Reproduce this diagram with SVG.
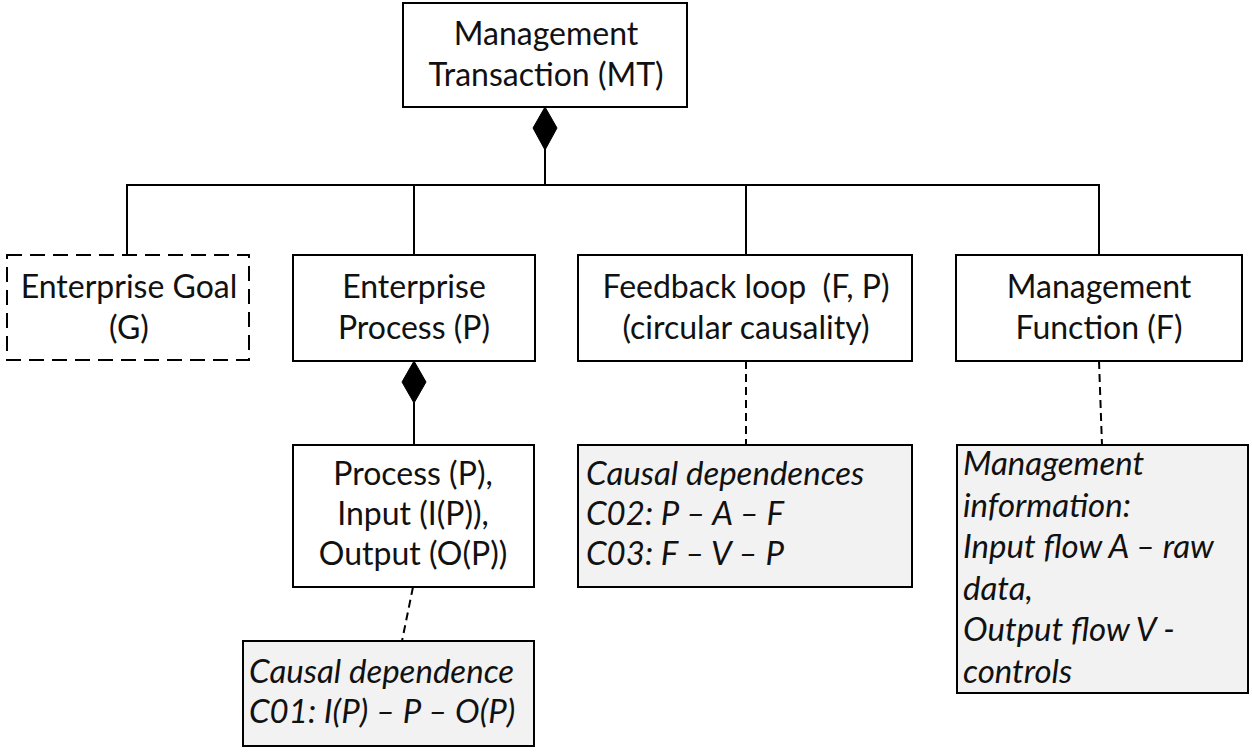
<svg xmlns="http://www.w3.org/2000/svg" width="1252" height="752" viewBox="0 0 1252 752">
<style>
.box{fill:#fff;stroke:#000;stroke-width:2}
.dbox{fill:#fff;stroke:#000;stroke-width:2;stroke-dasharray:15 8}
.note{fill:#f2f2f2;stroke:#000;stroke-width:2}
.t{font-family:Lato,"Open Sans","Liberation Sans",sans-serif;font-size:32px;fill:#111;text-anchor:middle}
.n{font-family:Lato,"Open Sans","Liberation Sans",sans-serif;font-size:33px;font-style:italic;fill:#111}
.ln{stroke:#000;stroke-width:2;fill:none}
.dl{stroke:#000;stroke-width:2;fill:none;stroke-dasharray:8 5}
.dia{fill:#000;stroke:#000;stroke-width:1}
</style>
<rect width="1252" height="752" fill="#fff"/>
<g id="connectors">
<line class="ln" x1="545" y1="148" x2="545" y2="185"/>
<line class="ln" x1="126" y1="185" x2="1100" y2="185"/>
<line class="ln" x1="127" y1="185" x2="127" y2="255"/>
<line class="ln" x1="414" y1="185" x2="414" y2="255"/>
<line class="ln" x1="746" y1="185" x2="746" y2="255"/>
<line class="ln" x1="1099" y1="185" x2="1099" y2="255"/>
<line class="ln" x1="414" y1="402" x2="414" y2="445"/>
<line class="dl" x1="413" y1="587" x2="402" y2="641"/>
<line class="dl" x1="746" y1="361" x2="746" y2="445"/>
<line class="dl" x1="1099" y1="361" x2="1102" y2="445"/>
<path class="dia" d="M545,107 L557,128 L545,150 L533,128 Z"/>
<path class="dia" d="M414,361 L426,382 L414,403 L402,382 Z"/>
</g>
<g id="mt">
<rect class="box" x="403" y="3" width="284" height="104"/>
<text class="t" x="546" y="45">Management</text>
<text class="t" x="546" y="86">Transaction (MT)</text>
</g>
<g id="goal">
<rect class="dbox" x="7" y="255" width="242" height="105"/>
<text class="t" x="129" y="298">Enterprise Goal</text>
<text class="t" x="129" y="339">(G)</text>
</g>
<g id="process">
<rect class="box" x="293" y="255" width="242" height="106"/>
<text class="t" x="414" y="298">Enterprise</text>
<text class="t" x="414" y="339">Process (P)</text>
</g>
<g id="feedback">
<rect class="box" x="578" y="255" width="334" height="106"/>
<text class="t" x="746" y="298">Feedback loop&#160; (F, P)</text>
<text class="t" x="746" y="339">(circular causality)</text>
</g>
<g id="function">
<rect class="box" x="956" y="255" width="286" height="106"/>
<text class="t" x="1099" y="298">Management</text>
<text class="t" x="1099" y="339">Function (F)</text>
</g>
<g id="pio">
<rect class="box" x="293" y="445" width="241" height="142"/>
<text class="t" x="413" y="485">Process (P),</text>
<text class="t" x="413" y="525">Input (I(P)),</text>
<text class="t" x="413" y="565">Output (O(P))</text>
</g>
<g id="note-c01">
<rect class="note" x="243" y="641" width="291" height="105"/>
<text class="n" x="249" y="683">Causal dependence</text>
<text class="n" x="249" y="723">C01: I(P) – P – O(P)</text>
</g>
<g id="note-c02">
<rect class="note" x="578" y="445" width="334" height="142"/>
<text class="n" x="586" y="485">Causal dependences</text>
<text class="n" x="586" y="525">C02: P – A – F</text>
<text class="n" x="586" y="565">C03: F – V – P</text>
</g>
<g id="note-info">
<rect class="note" x="957" y="445" width="291" height="248"/>
<text class="n" x="963" y="475">Management</text>
<text class="n" x="963" y="517">information:</text>
<text class="n" x="963" y="558">Input flow A – raw</text>
<text class="n" x="963" y="600">data,</text>
<text class="n" x="963" y="641">Output flow V -</text>
<text class="n" x="963" y="683">controls</text>
</g>
</svg>
